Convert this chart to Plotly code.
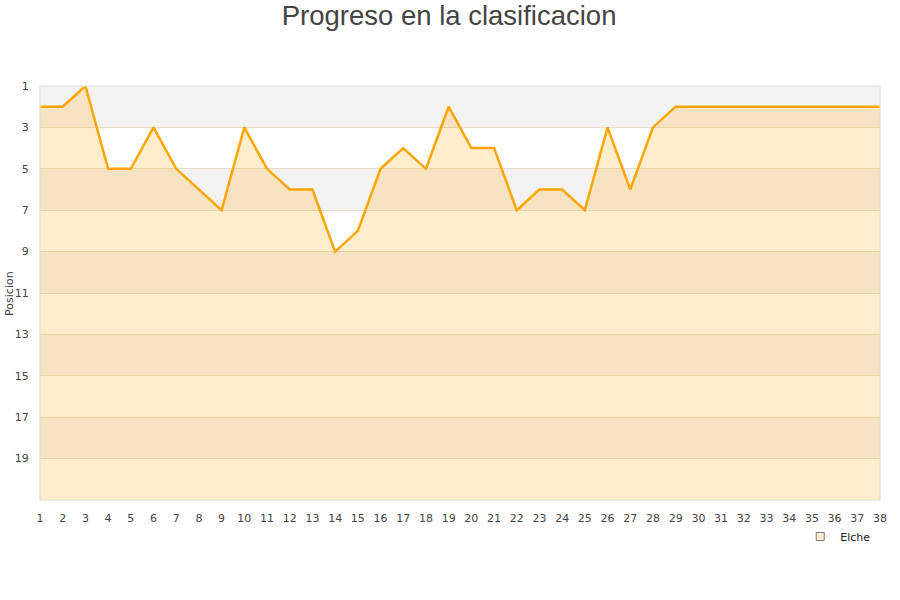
import plotly.graph_objects as go

jornadas = list(range(1, 39))
posiciones = [2, 2, 1, 5, 5, 3, 5, 6, 7, 3, 5, 6, 6, 9, 8, 5, 4, 5, 2, 4, 4, 7, 6, 6, 7, 3, 6, 3, 2,
              2, 2, 2, 2, 2, 2, 2, 2, 2]
team = "Elche"
y_ticks = list(range(1, 21, 2))
bottom_pos = 21
y_title = "Posicion"

fig = go.Figure()

shapes = []
for i, start in enumerate(range(1, bottom_pos, 2)):
    if i % 2 == 0:
        shapes.append(dict(type="rect", xref="paper", yref="y", x0=0, x1=1, y0=start, y1=start + 2,
                           fillcolor="#f3f3f3", line=dict(width=0), layer="below"))

fig.add_trace(go.Scatter(x=jornadas, y=[bottom_pos] * len(jornadas), mode="lines",
                         line=dict(width=0, color="rgba(0,0,0,0)"), showlegend=False, hoverinfo="skip"))
fig.add_trace(go.Scatter(x=jornadas, y=posiciones, mode="lines", fill="tonexty",
                         fillcolor="rgba(255,165,0,0.2)", line=dict(color="#ffa500", width=2.5),
                         showlegend=False, name=team))
fig.add_trace(go.Scatter(x=[None], y=[None], mode="markers", name=team,
                         marker=dict(symbol="square", size=8, color="#ffedcc",
                                     line=dict(color="#777", width=1))))

fig.update_layout(
    width=900, height=600,
    margin=dict(l=40, r=20, t=86, b=100, autoexpand=False),
    paper_bgcolor="white", plot_bgcolor="white",
    font=dict(family="DejaVu Sans", size=11, color="#444"),
    title=dict(text="Progreso en la clasificacion", xref="container", x=0.499, xanchor="center",
               y=0.975, yanchor="middle",
               font=dict(family="Liberation Sans, Arial", size=27.5, color="#444")),
    shapes=shapes + [dict(type="rect", xref="paper", yref="paper", x0=0, x1=1, y0=0, y1=1,
                          line=dict(color="#dddddd", width=1), layer="above")],
    xaxis=dict(range=[1, 38], tickmode="array", tickvals=jornadas, ticktext=[str(j) for j in jornadas],
               showgrid=False, zeroline=False, ticks="outside", ticklen=8, tickcolor="rgba(0,0,0,0)",
               automargin=False, tickfont=dict(size=11, color="#444")),
    yaxis=dict(range=[bottom_pos, 1], tickmode="array", tickvals=y_ticks,
               showgrid=True, gridcolor="#e3dccf", gridwidth=1, zeroline=False, ticks="outside",
               ticklen=8, tickcolor="rgba(0,0,0,0)", automargin=False,
               tickfont=dict(size=11, color="#444")),
    annotations=[
        dict(text=y_title, xref="paper", yref="paper", x=-0.037, y=0.5, xanchor="center",
             yanchor="middle", textangle=-90, showarrow=False, font=dict(size=11, color="#444")),
    ],
    legend=dict(x=0.905, y=-0.0531, xanchor="left", yanchor="top", bgcolor="white",
                font=dict(size=11, color="#222"), itemwidth=30),
)

fig.write_html("out.html", config={"displayModeBar": False},
               post_script="document.body.style.margin='0';")
